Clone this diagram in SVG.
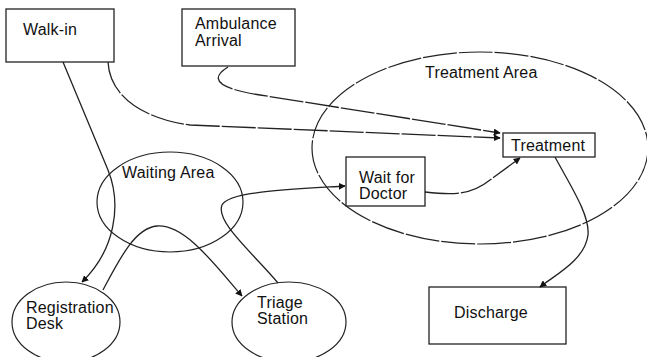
<svg xmlns="http://www.w3.org/2000/svg" width="647" height="357" viewBox="0 0 647 357">
<style>
.box{fill:#fff;stroke:#222;stroke-width:1.3}
.area{fill:none;stroke:#222;stroke-width:1.2}
.t{font-family:"Liberation Sans",Arial,sans-serif;font-size:16px;fill:#111;letter-spacing:0.2px}
.c{fill:none;stroke:#222;stroke-width:1.3}
.d{stroke-dasharray:34 2}
</style>
<defs>
<marker id="ah" viewBox="0 0 10 10" refX="9" refY="5" markerWidth="7" markerHeight="7" orient="auto-start-reverse" markerUnits="userSpaceOnUse">
<path d="M0,0 L10,5 L0,10 z" fill="#111"/>
</marker>
</defs>
<rect width="647" height="357" fill="#fff"/>
<g id="treatment-area">
<ellipse class="area d" cx="480" cy="148" rx="168" ry="96"/>
<text class="t" x="425" y="78">Treatment Area</text>
</g>
<g id="waiting-area">
<ellipse class="area" cx="170" cy="202" rx="73" ry="50"/>
<text class="t" x="122" y="178">Waiting Area</text>
</g>
<g id="walk-in">
<rect class="box" x="6" y="9" width="108" height="53"/>
<text class="t" x="23" y="35">Walk-in</text>
</g>
<g id="ambulance">
<rect class="box" x="182" y="9" width="113" height="57"/>
<text class="t" x="195" y="29">Ambulance</text>
<text class="t" x="195" y="46">Arrival</text>
</g>
<g id="treatment">
<rect class="box" x="503" y="133" width="92" height="24"/>
<text class="t" x="511" y="151">Treatment</text>
</g>
<g id="wait-for-doctor">
<rect class="box" x="346" y="157" width="79" height="49"/>
<text class="t" x="359" y="183">Wait for</text>
<text class="t" x="359" y="199">Doctor</text>
</g>
<g id="discharge">
<rect class="box" x="429" y="287" width="137" height="57"/>
<text class="t" x="454" y="318">Discharge</text>
</g>
<g id="registration-desk">
<ellipse class="area" cx="66" cy="322" rx="54" ry="40"/>
<text class="t" x="26" y="313">Registration</text>
<text class="t" x="26" y="329">Desk</text>
</g>
<g id="triage-station">
<ellipse class="area" cx="289" cy="322" rx="57" ry="40"/>
<text class="t" x="257" y="308">Triage</text>
<text class="t" x="257" y="324">Station</text>
</g>
<g id="connectors">
<path class="c" d="M63,62 L108,170 C122,205 115,250 82,282" marker-end="url(#ah)"/>
<path class="c" d="M103,290 C120,258 135,228 157,226 C185,224 215,265 242,296" marker-end="url(#ah)"/>
<path class="c" d="M278,283 C255,255 215,222 222,205 C228,192 280,190 345,186" marker-end="url(#ah)"/>
<path class="c d" d="M108,62 C110,100 150,120 190,125 L500,138" marker-end="url(#ah)"/>
<path class="c d" d="M228,67 C210,78 215,88 260,95 L500,133" marker-end="url(#ah)"/>
<path class="c d" d="M425,192 C450,195 470,196 490,180 L520,158" marker-end="url(#ah)"/>
<path class="c" d="M555,157 C570,185 590,215 588,235 C585,260 555,275 540,287" marker-end="url(#ah)"/>
</g>
</svg>
